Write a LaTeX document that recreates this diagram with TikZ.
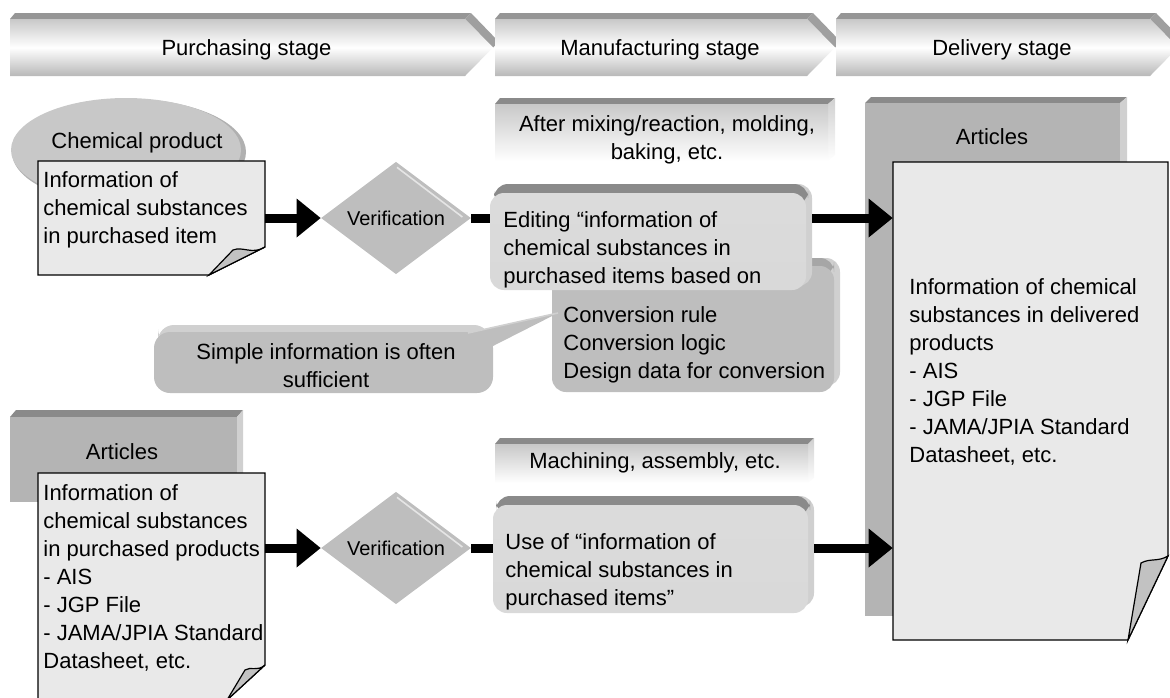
\documentclass[tikz,border=0pt]{standalone}
\usepackage{fontspec}
\setmainfont{Liberation Sans}
\usepackage{tikz}
\usetikzlibrary{calc,arrows.meta,positioning,shapes.geometric}
\definecolor{bandgray}{HTML}{8A8A8A}
\definecolor{sidegray}{HTML}{D0D0D0}
\definecolor{boxgray}{HTML}{B4B4B4}
\definecolor{paper}{HTML}{E9E9E9}
\definecolor{flapgray}{HTML}{C2C2C2}
\definecolor{stagegray}{HTML}{C8C8C8}
\definecolor{softgray}{HTML}{BEBEBE}

\begin{document}
\begin{tikzpicture}[x=0.5pt,y=-0.5pt,
  txt/.style={font=\fontsize{11}{14}\selectfont,inner sep=0pt},
  para/.style={txt,align=left,anchor=north west},
  area/.style 2 args={rectangle,inner sep=0pt,minimum width=#1*0.5pt,minimum height=#2*0.5pt},
  flow/.style={line width=4.5pt},
  flowarrow/.style={flow,-{Triangle[length=12pt,width=19.5pt,line width=0pt]}},
  check/.style={diamond,fill=softgray,inner sep=0pt,minimum width=75pt,minimum height=46pt,font=\fontsize{10}{12}\selectfont},
  paperline/.style={fill=paper,draw=black,line width=0.6pt}]
\useasboundingbox (0,0) rectangle (1170,697);

% stage headers
\foreach \xa/\xb/\lab/\nm in {10/465/Purchasing stage/purch,495/807/Manufacturing stage/manuf,836/1150/Delivery stage/deliv}{
  \fill[bandgray!90] (\xa,19)--(\xa+5,13)--(\xb+6,13)--(\xb,19)--cycle;
  \fill[gray!75] (\xb,19)--(\xb+6,13)--(\xb+34,42)--(\xb+28,47.5)--cycle;
  \shade[top color=stagegray,bottom color=stagegray!92!black,middle color=white] (\xa,19)--(\xb,19)--(\xb+28,47.5)--(\xb,76)--(\xa,76)--cycle;
  \node[txt] (\nm) at ({(\xa+\xb)/2+9},50) {\lab};
}

% purchased chemical product
\fill[gray!62] (129,152) ellipse [x radius=117,y radius=53];
\fill[softgray!85!white] (126,150) ellipse [x radius=115,y radius=52];
\node[txt] (chem) at (137,143) {Chemical product};
\node[area={227}{114}] (note1) at (151.5,218) {};
\filldraw[paperline] (38,161)--(265,161)--(265,247)--(209,275)--(38,275)--cycle;
\filldraw[fill=flapgray,draw=black,line width=0.6pt] (265,247) .. controls (252,255) and (243,246) .. (233,250) -- (209,275) -- cycle;
\node[para] (info1) at (43,171) {Information of\\chemical substances\\in purchased item};

% purchased articles
\fill[bandgray] (10,417)--(16,410)--(243,410)--(237,417)--cycle;
\fill[sidegray] (237,417)--(243,410)--(243,497)--(237,502)--cycle;
\fill[boxgray] (10,417) rectangle (237,502);
\node[txt] (art2) at (122,452) {Articles};
\node[area={227}{227}] (note2) at (151.5,586.5) {};
\filldraw[paperline] (38,473)--(265,473)--(265,665)--(227,700)--(38,700)--cycle;
\filldraw[fill=flapgray,draw=black,line width=0.6pt] (265,665) .. controls (257,672) and (251,666) .. (245,670) -- (227,700) -- cycle;
\node[para] (info2) at (43,484) {Information of\\chemical substances\\in purchased products\\- AIS\\- JGP File\\- JAMA/JPIA Standard\\Datasheet, etc.};

% checks
\node[check] (dia1) at (396,218) {Verification};
\node[check] (dia2) at (396,548) {Verification};
\foreach \d in {dia1,dia2}{\draw[white!60!softgray,line width=0.8pt] ($(\d.north)+(1,6)$) -- ($(\d.east)+(-9,-1)$);}

% manufacturing stage
\fill[bandgray] (495,104)--(500,98)--(835,98)--(828,104)--cycle;
\shade[top color=sidegray,bottom color=white] (828,104)--(835,98)--(835,155)--(828,161)--cycle;
\shade[top color=stagegray,bottom color=white] (495,104) rectangle (828,161);
\node[txt,align=center] (mix) at (667,140) {After mixing/reaction, molding,\\baking, etc.};

\fill[sidegray,rounded corners=7pt] (556,258) rectangle (840,386);
\fill[gray!70,rounded corners=7pt] (553,258) rectangle (834,276);
\fill[softgray,rounded corners=7pt] (552,266) rectangle (834,392);
\node[para] (conv) at (563,306) {Conversion rule\\Conversion logic\\Design data for conversion};

\node[area={322}{106}] (edit) at (651,237) {};
\fill[sidegray,rounded corners=7pt] (497,184) rectangle (812,286);
\fill[bandgray,rounded corners=7pt] (494,184) rectangle (808,205);
\shade[top color=gray!28,middle color=white,bottom color=gray!30,rounded corners=7pt] (490,193) rectangle (806,290);
\node[para] (edittxt) at (503,211) {Editing “information of\\chemical substances in\\purchased items based on};

\fill[sidegray,rounded corners=8pt] (158,325) rectangle (490,345);
\fill[softgray,rounded corners=8pt] (154,332) rectangle (493,393);
\fill[softgray] (468,333) -- (558,313) -- (493,346) -- cycle;
\draw[sidegray,line width=0.8pt] (468,333) -- (558,313);
\node[txt,align=center] (hint) at (326,366) {Simple information is often\\sufficient};

\fill[bandgray] (495,444)--(500,438)--(814,438)--(808,444)--cycle;
\shade[top color=sidegray,bottom color=white] (808,444)--(814,438)--(814,478)--(808,483)--cycle;
\shade[top color=stagegray,bottom color=white] (495,444) rectangle (808,483);
\node[txt] (mach) at (655,463) {Machining, assembly, etc.};

\node[area={321}{117}] (use) at (653.5,554.5) {};
\fill[sidegray,rounded corners=7pt] (499,496) rectangle (814,607);
\fill[bandgray,rounded corners=7pt] (496,496) rectangle (810,515);
\shade[top color=gray!28,middle color=white,bottom color=gray!30,rounded corners=7pt] (493,505) rectangle (808,613);
\node[para] (usetxt) at (505,533) {Use of “information of\\chemical substances in\\purchased items”};

% delivered articles
\fill[bandgray] (865,103)--(871,97)--(1127,97)--(1120,103)--cycle;
\fill[sidegray] (1120,103)--(1127,97)--(1127,611)--(1120,616)--cycle;
\fill[boxgray] (865,103) rectangle (1120,616);
\node[txt] (art3) at (992,137) {Articles};
\node[area={275}{478}] (note3) at (1030.5,401) {};
\filldraw[paperline] (893,162)--(1168,162)--(1168,556)--(1128,640)--(893,640)--cycle;
\filldraw[fill=flapgray,draw=black,line width=0.6pt] (1168,556) .. controls (1158,562) and (1150,558) .. (1141,563) -- (1128,640) -- cycle;
\node[para] (info3) at (909,278) {Information of chemical\\substances in delivered\\products\\- AIS\\- JGP File\\- JAMA/JPIA Standard\\Datasheet, etc.};

% flow
\draw[flowarrow] (note1.east) -- (dia1.west);
\draw[flow] (dia1.east) -- (dia1.east -| edit.west);
\draw[flowarrow] (edit.east |- dia1.east) -- (note3.west |- dia1.east);
\draw[flowarrow] (note2.east |- dia2.west) -- (dia2.west);
\draw[flow] (dia2.east) -- (dia2.east -| use.west);
\draw[flowarrow] (use.east |- dia2.east) -- (note3.west |- dia2.east);
\end{tikzpicture}
\end{document}
